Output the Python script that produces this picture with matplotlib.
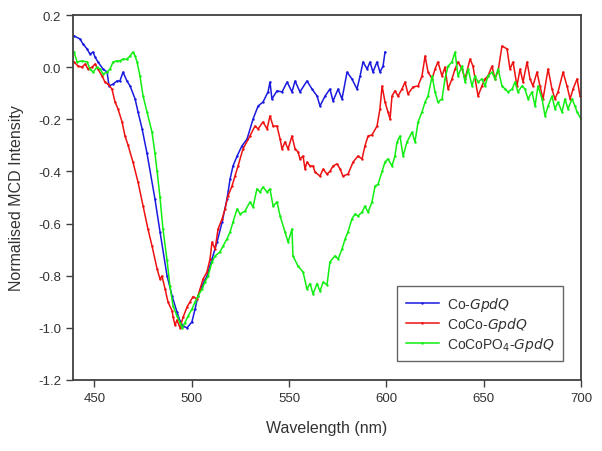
import matplotlib as mpl
mpl.use('Agg')
import matplotlib.pyplot as plt
import matplotlib.ticker as mtick

mpl.rcParams['font.family'] = ['Liberation Sans', 'DejaVu Sans']
mpl.rcParams['axes.unicode_minus'] = False

# Co-GpdQ (blue)
co_nm = [439.5, 442.6, 444.1, 446.2, 447.7, 449.3, 450.3, 451.8, 454.4, 456.5,
         457.5, 459.6, 461.6, 463.1, 464.7, 466.7, 468.3, 470.9, 472.4, 474.5,
         477.0, 481.1, 483.7, 487.3, 489.9, 492.4, 494.0, 495.5, 497.6, 500.1,
         501.7, 503.2, 505.3, 507.8, 510.4, 513.0, 515.6, 518.1, 519.7, 521.2,
         523.3, 525.8, 528.4, 531.5, 534.1, 536.6, 539.2, 540.2, 541.2, 543.8,
         546.4, 549.0, 551.5, 553.1, 555.6, 559.2, 561.8, 564.4, 565.9, 568.5,
         571.0, 572.6, 575.2, 577.2, 579.8, 582.3, 584.9, 586.5, 588.0, 590.1,
         591.6, 593.1, 595.2, 596.7, 598.3, 599.3]
co_val = [0.12, 0.108, 0.089, 0.07, 0.05, 0.058, 0.039, 0.02, -0.007, -0.019,
          -0.072, -0.065, -0.053, -0.053, -0.019, -0.053, -0.072, -0.122, -0.172, -0.237,
          -0.33, -0.506, -0.632, -0.80, -0.878, -0.939, -0.974, -0.993, -1.0, -0.977,
          -0.928, -0.878, -0.839, -0.801, -0.736, -0.671, -0.594, -0.506, -0.429, -0.379,
          -0.341, -0.302, -0.276, -0.199, -0.149, -0.134, -0.095, -0.057, -0.122, -0.091,
          -0.095, -0.057, -0.095, -0.053, -0.095, -0.053, -0.084, -0.111, -0.149, -0.111,
          -0.084, -0.130, -0.084, -0.122, -0.019, -0.045, -0.084, -0.034, 0.02, -0.007,
          0.02, -0.019, 0.02, -0.019, 0.004, 0.058]

# CoCo-GpdQ (red)
coco_nm = [439.5, 441.6, 443.6, 445.2, 446.7, 448.8, 450.3, 451.8, 453.9, 455.4,
           457.0, 459.0, 460.6, 462.1, 464.2, 465.7, 467.3, 469.8, 472.4, 475.0,
           477.5, 479.6, 482.2, 483.7, 484.7, 486.3, 487.8, 489.9, 490.4, 491.4,
           492.4, 494.0, 495.5, 497.6, 499.1, 500.7, 502.7, 504.3, 505.8, 507.8,
           509.4, 510.4, 512.0, 513.5, 515.6, 517.1, 518.6, 520.7, 522.2, 523.8,
           526.3, 529.9, 532.5, 534.1, 536.6, 538.7, 540.2, 541.8, 543.8, 545.4,
           546.4, 547.9, 549.5, 551.5, 553.1, 554.6, 555.6, 557.2, 558.2, 559.2,
           560.8, 562.3, 563.3, 565.9, 567.5, 569.5, 571.0, 572.6, 574.6, 576.2,
           577.7, 580.3, 582.9, 585.4, 587.5, 589.0, 590.6, 592.6, 595.2, 596.7,
           597.8, 599.3, 600.8, 601.9, 602.9, 604.4, 606.0, 608.0, 609.6, 611.1,
           613.7, 616.3, 618.3, 619.9, 621.4, 623.5, 625.0, 626.5, 628.6, 630.1,
           631.7, 633.7, 635.3, 636.8, 638.9, 640.4, 643.0, 644.5, 647.1, 649.1,
           650.7, 652.2, 654.3, 655.8, 657.4, 659.4, 662.0, 663.5, 665.1, 667.1,
           668.7, 670.2, 672.3, 673.8, 675.3, 677.4, 678.9, 680.5, 683.1, 685.1,
           686.6, 688.2, 690.8, 692.8, 694.4, 695.9, 698.0, 699.5]
coco_val = [0.02, 0.004, 0.0, 0.012, -0.007, 0.0, 0.012, -0.007, -0.034, -0.057,
            -0.065, -0.084, -0.134, -0.16, -0.21, -0.264, -0.30, -0.364, -0.441, -0.533,
            -0.621, -0.686, -0.774, -0.813, -0.801, -0.851, -0.901, -0.935, -0.958, -0.99,
            -0.97, -1.0, -0.96, -0.92, -0.90, -0.88, -0.89, -0.851, -0.813, -0.786,
            -0.736, -0.671, -0.698, -0.621, -0.582, -0.544, -0.494, -0.456, -0.418, -0.379,
            -0.314, -0.264, -0.226, -0.237, -0.21, -0.237, -0.187, -0.226, -0.226, -0.276,
            -0.314, -0.287, -0.314, -0.264, -0.314, -0.325, -0.352, -0.341, -0.391, -0.364,
            -0.379, -0.379, -0.402, -0.418, -0.391, -0.41, -0.40, -0.379, -0.371, -0.39,
            -0.418, -0.41, -0.364, -0.341, -0.352, -0.302, -0.264, -0.26, -0.226, -0.16,
            -0.072, -0.134, -0.172, -0.199, -0.111, -0.091, -0.111, -0.084, -0.057, -0.103,
            -0.076, -0.072, -0.034, 0.043, -0.019, -0.045, -0.007, 0.02, -0.034, 0.0,
            -0.084, -0.045, -0.007, 0.02, -0.007, -0.045, 0.031, 0.004, -0.111, -0.072,
            -0.045, -0.034, 0.004, -0.045, -0.015, 0.081, 0.07, -0.007, 0.02, -0.072,
            -0.007, -0.057, 0.02, -0.045, -0.072, -0.019, -0.072, -0.122, -0.007, -0.084,
            -0.122, -0.095, -0.019, -0.072, -0.122, -0.084, -0.045, -0.111]

# CoCoPO4-GpdQ (green)
cocopo_nm = [439.5, 441.1, 443.6, 446.2, 447.7, 449.3, 451.3, 452.9, 454.4, 456.5,
             458.0, 459.6, 461.6, 463.1, 464.7, 466.7, 468.3, 469.8, 470.9, 471.9,
             473.4, 475.0, 477.0, 479.6, 481.1, 482.2, 483.7, 485.2, 487.3, 488.8,
             490.4, 492.4, 494.0, 495.0, 496.5, 498.1, 500.1, 501.7, 503.2, 505.3,
             506.8, 508.4, 510.4, 512.0, 514.5, 516.1, 518.1, 519.7, 521.2, 523.3,
             524.8, 527.4, 529.9, 531.5, 533.5, 535.1, 536.6, 538.7, 540.2, 541.8,
             543.8, 545.4, 547.9, 549.5, 551.5, 552.0, 554.6, 557.2, 559.2, 560.8,
             562.3, 564.4, 565.9, 567.5, 569.5, 571.0, 573.6, 575.2, 577.2, 578.8,
             580.3, 582.3, 583.9, 585.4, 587.5, 589.0, 590.6, 592.6, 594.2, 595.7,
             597.8, 599.3, 600.8, 602.9, 604.4, 605.5, 607.0, 608.6, 610.6, 613.2,
             614.7, 616.3, 618.3, 619.9, 621.4, 623.5, 625.0, 626.5, 628.6, 630.1,
             631.7, 633.7, 635.3, 636.8, 638.9, 640.4, 642.0, 644.0, 645.5, 647.1,
             649.1, 650.7, 652.2, 654.3, 655.8, 657.4, 659.4, 661.0, 662.5, 664.6,
             666.1, 667.6, 669.7, 671.2, 672.8, 674.8, 676.4, 677.9, 680.0, 681.5,
             683.1, 685.1, 686.6, 688.2, 690.2, 691.8, 693.3, 695.4, 696.9, 698.0,
             700.0]
cocopo_val = [0.058, 0.02, 0.024, 0.02, -0.007, -0.019, 0.0, -0.007, -0.026, -0.019,
              -0.007, 0.02, 0.024, 0.024, 0.031, 0.031, 0.043, 0.058, 0.043, 0.02,
              -0.034, -0.111, -0.172, -0.25, -0.33, -0.40, -0.50, -0.62, -0.74, -0.84,
              -0.916, -0.955, -0.98, -1.0, -0.98, -0.955, -0.928, -0.901, -0.878, -0.851,
              -0.824, -0.801, -0.747, -0.724, -0.709, -0.686, -0.659, -0.632, -0.594, -0.544,
              -0.563, -0.552, -0.517, -0.536, -0.467, -0.479, -0.46, -0.479, -0.467, -0.533,
              -0.517, -0.571, -0.632, -0.671, -0.621, -0.724, -0.763, -0.786, -0.851, -0.83,
              -0.87, -0.83, -0.86, -0.824, -0.835, -0.747, -0.724, -0.736, -0.698, -0.659,
              -0.632, -0.582, -0.563, -0.571, -0.556, -0.533, -0.556, -0.517, -0.456, -0.45,
              -0.40, -0.364, -0.352, -0.379, -0.341, -0.287, -0.264, -0.341, -0.287, -0.249,
              -0.287, -0.21, -0.172, -0.134, -0.111, -0.034, -0.095, -0.134, -0.122, -0.045,
              0.004, 0.02, 0.058, -0.034, 0.004, -0.057, -0.007, -0.072, -0.034, -0.057,
              -0.045, -0.072, -0.034, -0.019, -0.045, -0.007, -0.072, -0.084, -0.095, -0.084,
              -0.057, -0.095, -0.072, -0.084, -0.122, -0.095, -0.149, -0.072, -0.122, -0.187,
              -0.149, -0.111, -0.16, -0.134, -0.172, -0.122, -0.16, -0.122, -0.149, -0.172,
              -0.199]

labels = ['Co-$\\it{GpdQ}$', 'CoCo-$\\it{GpdQ}$', 'CoCoPO$_4$-$\\it{GpdQ}$']

fig = plt.figure(figsize=(6.02, 4.52), dpi=100)
ax = fig.add_axes([0.1213, 0.1571, 0.8438, 0.8075])

ax.plot(co_nm, co_val, color='#1a1ae0', lw=1.1, marker='.', ms=1.5, label=labels[0])
ax.plot(coco_nm, coco_val, color='#ee1111', lw=1.1, marker='.', ms=1.5, label=labels[1])
ax.plot(cocopo_nm, cocopo_val, color='#11ee11', lw=1.1, marker='.', ms=1.5, label=labels[2])

ax.set_xlim(439, 700)
ax.set_ylim(-1.2, 0.2)
ax.set_xticks([450, 500, 550, 600, 650, 700])
ax.set_yticks([-1.2, -1.0, -0.8, -0.6, -0.4, -0.2, 0.0, 0.2])
ax.yaxis.set_major_formatter(mtick.FormatStrFormatter('%.1f'))

for s in ax.spines.values():
    s.set_color('#404040')
    s.set_linewidth(1.3)
ax.tick_params(direction='out', length=5, width=1, color='#404040',
               labelsize=9.5, labelcolor='#333333', top=False, right=False)

ax.set_xlabel('Wavelength (nm)', fontsize=11.5, color='#333333', labelpad=12)
ax.set_ylabel('Normalised MCD Intensity', fontsize=11.5, color='#333333', labelpad=10)

# legend box, lower right
leg = ax.legend(loc='lower right', bbox_to_anchor=(0.965, 0.052), fontsize=10,
                frameon=True, fancybox=False, handlelength=2.4, handletextpad=0.6,
                borderpad=0.6, labelspacing=0.15, borderaxespad=0)
leg.get_frame().set_edgecolor('#404040')
leg.get_frame().set_linewidth(1.0)
for t in leg.get_texts():
    t.set_color('#333333')

fig.savefig('out.png', dpi=100)
